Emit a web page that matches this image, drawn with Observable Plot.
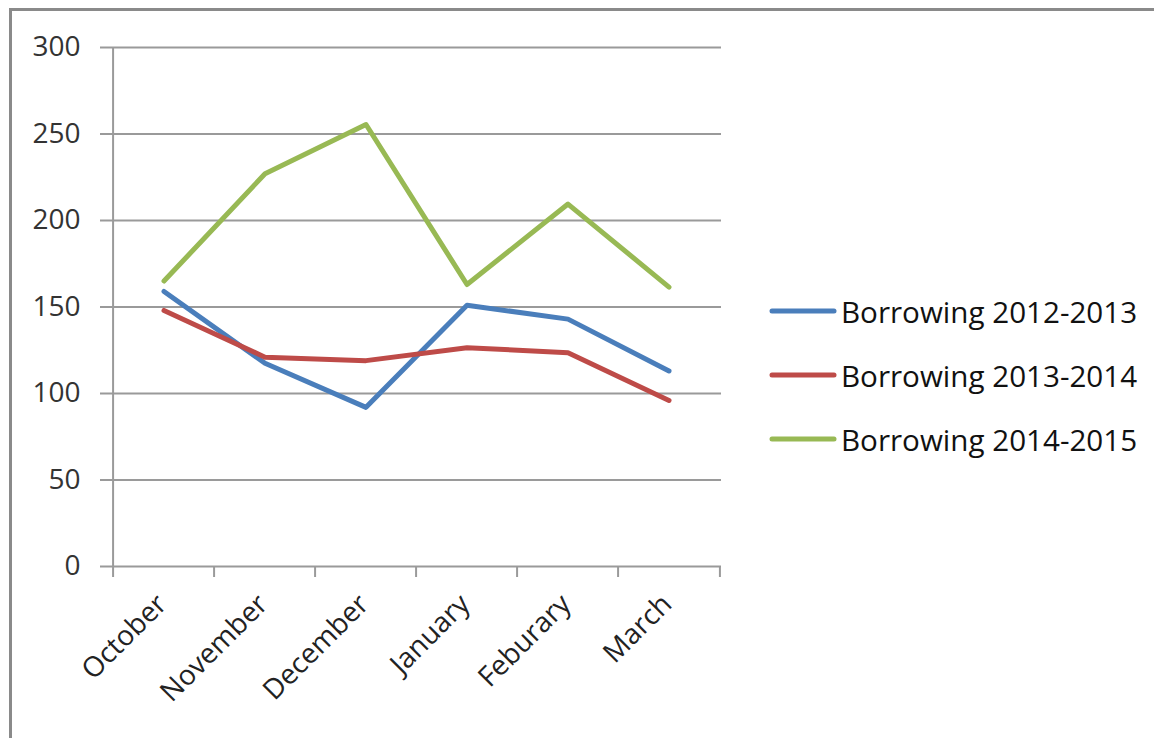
<!DOCTYPE html>
<html>
<head>
<meta charset="utf-8">
<script src="https://cdn.jsdelivr.net/npm/d3@7"></script>
<script src="https://cdn.jsdelivr.net/npm/@observablehq/plot@0.6"></script>
<style>
  body { margin: 0; background: #fff; }
  #wrap { position: relative; width: 1154px; height: 738px; overflow: hidden; font-family: "Open Sans", sans-serif; background: #fff; }
  #border { position: absolute; left: 9px; top: 8px; width: 1300px; height: 900px; border-top: 3px solid #8a8a8a; border-left: 3px solid #8a8a8a; pointer-events: none; }
  #chart { position: absolute; left: 0; top: 0; }
  .leg { position: absolute; left: 769px; height: 40px; display: flex; align-items: center; font-size: 29.6px; color: #111; white-space: nowrap; }
  .leg svg { margin-right: 4px; }
</style>
</head>
<body>
<div id="wrap">
  <div id="chart"></div>
  <div id="legend"></div>
  <div id="border"></div>
</div>
<script>
const months = ["October", "November", "December", "January", "Feburary", "March"];
const seriesNames = ["Borrowing 2012-2013", "Borrowing 2013-2014", "Borrowing 2014-2015"];
const borrowing1213 = [159, 117.5, 92, 151, 143, 113];
const borrowing1314 = [148, 121, 119, 126.5, 123.5, 96];
const borrowing1415 = [165, 227, 255.5, 163, 209.5, 161.5];
const seriesColors = ["#4a7ebb", "#be4b48", "#98b954"];
const yTicks = [0, 50, 100, 150, 200, 250, 300];

const seriesValues = [borrowing1213, borrowing1314, borrowing1415];
const data = seriesNames.flatMap((s, si) => months.map((m, i) => ({series: s, month: m, value: seriesValues[si][i]})));

const W = 1154, H = 738, mL = 110, mR = 433, mT = 47, mB = 172;
const step = (W - mL - mR) / months.length;
const gray = "#9a9a9a";

const chart = Plot.plot({
  width: W,
  height: H,
  marginLeft: mL,
  marginRight: mR,
  marginTop: mT,
  marginBottom: mB,
  style: {fontFamily: "Open Sans, sans-serif", fontSize: "28px", color: "#333", background: "transparent", overflow: "visible"},
  x: {type: "band", domain: months, padding: 0},
  y: {domain: [0, 300]},
  color: {domain: seriesNames, range: seriesColors},
  marks: [
    Plot.ruleY(yTicks, {stroke: gray, strokeWidth: 2, insetLeft: -10}),
    Plot.ruleX([months[0]], {x: d => d, dx: -step / 2, stroke: gray, strokeWidth: 2}),
    Plot.ruleX(months, {x: d => d, dx: -step / 2, y1: 0, y2: 0, insetBottom: -11, stroke: gray, strokeWidth: 2}),
    Plot.ruleX([months[months.length - 1]], {x: d => d, dx: step / 2, y1: 0, y2: 0, insetBottom: -11, stroke: gray, strokeWidth: 2}),
    Plot.axisY(yTicks, {tickSize: 0, tickPadding: 30, label: null, fill: "#333"}),
    Plot.axisX({tickSize: 0, tickRotate: -45, tickPadding: 33, dx: -2, label: null, fill: "#222"}),
    Plot.line(data, {x: "month", y: "value", stroke: "series", z: "series", strokeWidth: 5, strokeLinejoin: "round", strokeLinecap: "round"})
  ]
});
document.getElementById("chart").appendChild(chart);

const legend = document.getElementById("legend");
const legendTop = [291, 355, 419];
seriesNames.forEach((s, i) => {
  const row = document.createElement("div");
  row.className = "leg";
  row.style.top = legendTop[i] + "px";
  row.innerHTML = `<svg width="68" height="10"><line x1="3" y1="5" x2="65" y2="5" stroke="${seriesColors[i]}" stroke-width="5" stroke-linecap="round"/></svg><span>${s}</span>`;
  legend.appendChild(row);
});
</script>
</body>
</html>
